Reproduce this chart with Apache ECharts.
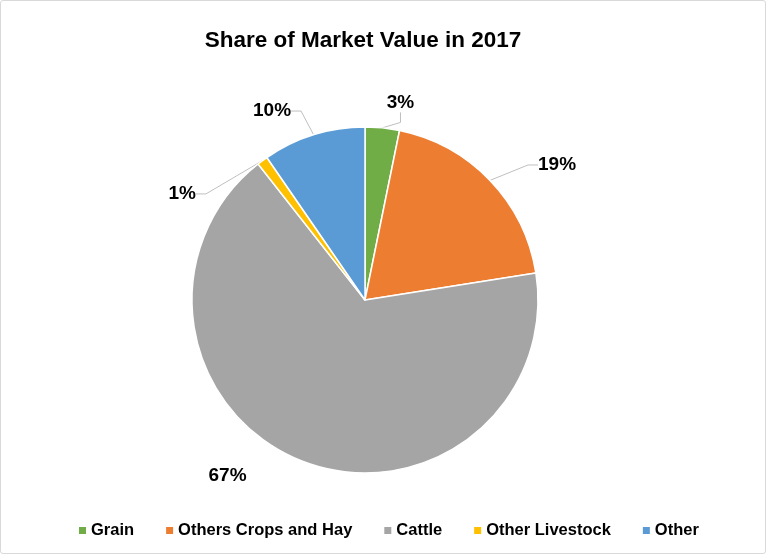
<!DOCTYPE html>
<html>
<head>
<meta charset="utf-8">
<script src="https://cdn.jsdelivr.net/npm/echarts@6/dist/echarts.min.js"></script>
<style>
html,body{margin:0;padding:0;background:#fff;}
#chart{width:766px;height:554px;box-sizing:border-box;border:1px solid #d9d9d9;border-radius:3px;}
</style>
</head>
<body>
<div id="chart"></div>
<script>
const categories = ['Grain', 'Others Crops and Hay', 'Cattle', 'Other Livestock', 'Other'];
const shares = [3.2, 19.3, 66.9, 1.0, 9.6];
const colors = ['#70AD47', '#ED7D31', '#A5A5A5', '#FFC000', '#5B9BD5'];
// label nudges relative to default outside placement
const labelNudge = [[-11.6, -15], [25.8, -8.5], [-36.6, 5.2], [-45.6, 41.3], [-4.6, -14.2]];

const FONT = '"Liberation Sans", Arial, sans-serif';
const chart = echarts.init(document.getElementById('chart'), null, {renderer: 'canvas'});
chart.setOption({
  animation: false,
  color: colors,
  title: {
    text: 'Share of Market Value in 2017',
    left: 357,
    textAlign: 'center',
    top: 23,
    textStyle: {fontFamily: FONT, fontSize: 22.5, fontWeight: 'bold', color: '#000'}
  },
  legend: {
    data: categories,
    left: 73,
    top: 516,
    icon: 'rect',
    itemWidth: 7,
    itemHeight: 7,
    itemGap: 32,
    itemStyle: {borderWidth: 0},
    textStyle: {fontFamily: FONT, fontSize: 16.5, fontWeight: 'bold', color: '#000'}
  },
  series: [{
    type: 'pie',
    center: [364, 299],
    radius: [0, 173],
    startAngle: 90,
    clockwise: true,
    avoidLabelOverlap: false,
    percentPrecision: 0,
    itemStyle: {borderColor: '#fff', borderWidth: 1.5},
    label: {
      show: true,
      position: 'outside',
      formatter: '{d}%',
      fontFamily: FONT,
      fontSize: 19,
      fontWeight: 'bold',
      color: '#000'
    },
    labelLine: {
      show: true,
      length: 10,
      length2: 10,
      lineStyle: {color: '#bfbfbf', width: 1}
    },
    labelLayout: function (params) {
      const n = labelNudge[params.dataIndex];
      const r = params.labelRect;
      return {
        x: r.x + r.width / 2 + n[0],
        y: r.y + r.height / 2 + n[1],
        align: 'center',
        verticalAlign: 'middle'
      };
    },
    data: categories.map(function (c, i) {
      const d = {name: c, value: shares[i]};
      if (i === 2) d.labelLine = {show: false};
      return d;
    })
  }]
});
</script>
</body>
</html>
